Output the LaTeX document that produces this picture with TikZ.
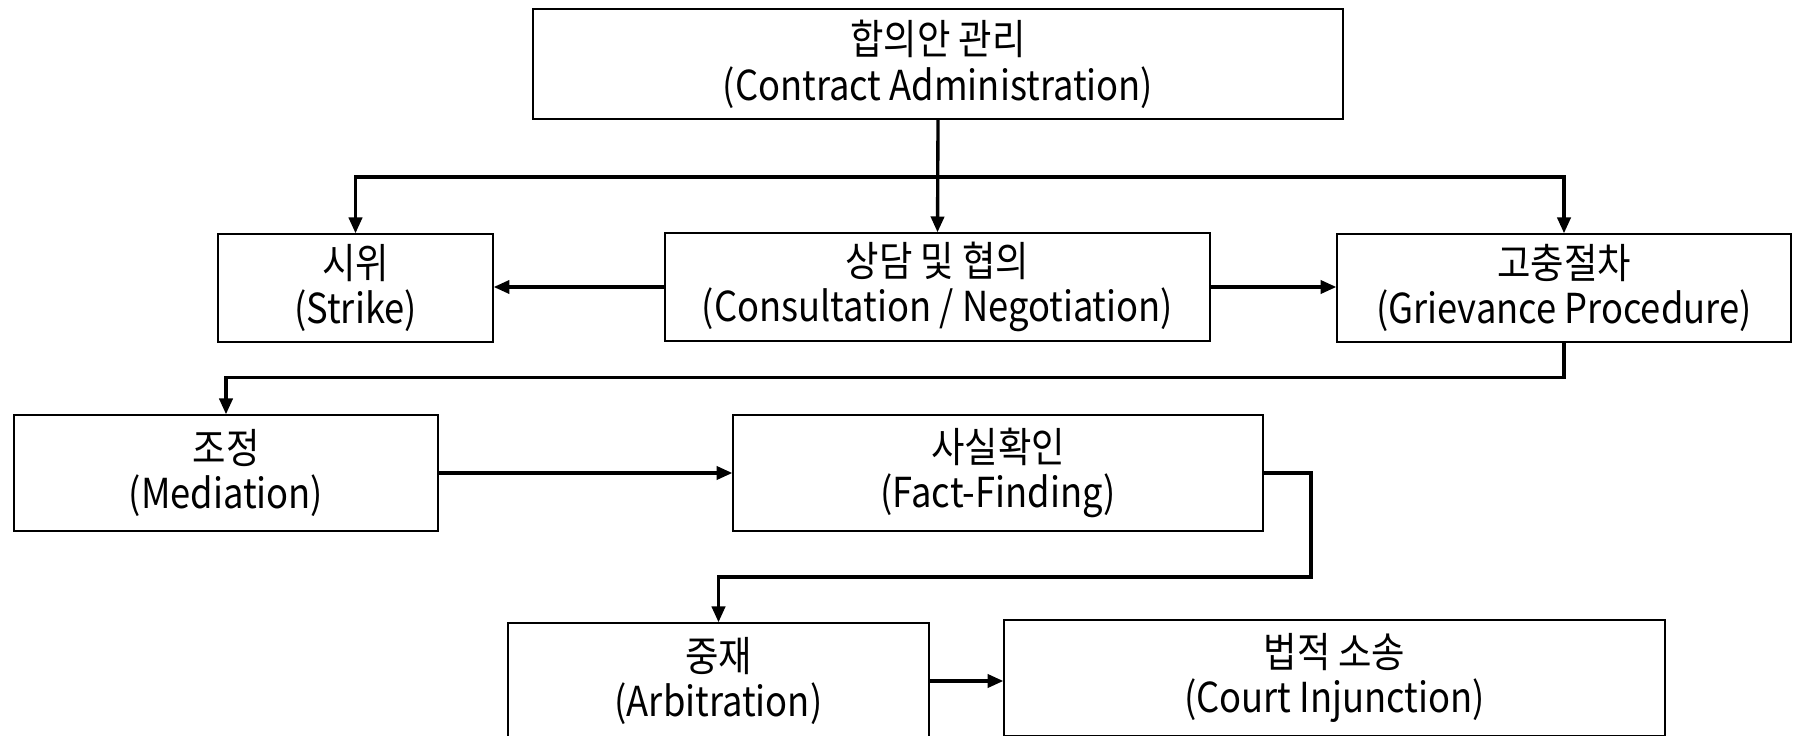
\documentclass[tikz,border=0pt]{standalone}
\usepackage{fontspec}
\setmainfont{Noto Sans CJK KR}[FakeStretch=0.88]
\usetikzlibrary{positioning}
\usetikzlibrary{arrows.meta}

\tikzset{
  stage/.style={rectangle,draw,line width=0.8pt,align=center,inner sep=0pt,
    font=\fontsize{23.5}{26}\selectfont},
  flow/.style={line width=1.9pt,-{Triangle[length=9pt,width=7.5pt]}},
}

\begin{document}
\begin{tikzpicture}[x=0.02cm,y=-0.02cm]
  \useasboundingbox (0,0) rectangle (1798,736);
  \node(admin)[stage,minimum width=16.2cm,minimum height=2.2cm] at (938,64){합의안 관리\\(Contract Administration)};
  \node(strike)[stage,minimum width=5.5cm,minimum height=2.16cm] at (355.5,288){시위\\(Strike)};
  \node(consult)[stage,minimum width=10.9cm,minimum height=2.16cm] at (937.5,287){상담 및 협의\\(Consultation / Negotiation)};
  \node(griev)[stage,minimum width=9.08cm,minimum height=2.16cm] at (1564,288){고충절차\\(Grievance Procedure)};
  \node(medi)[stage,minimum width=8.48cm,minimum height=2.32cm] at (226,473){조정\\(Mediation)};
  \node(fact)[stage,minimum width=10.6cm,minimum height=2.32cm] at (998,473){사실확인\\(Fact-Finding)};
  \node(arb)[stage,minimum width=8.42cm,minimum height=2.32cm] at (718.5,681){중재\\(Arbitration)};
  \node(court)[stage,minimum width=13.22cm,minimum height=2.32cm] at (1334.5,678){법적 소송\\(Court Injunction)};
  \coordinate(bar) at (938,177);
  \coordinate(fbend) at (1311,577);
\draw[flow](admin.south)--(consult.north);
\draw[flow](bar)-|(strike.north);
\draw[flow](bar)-|(griev.north);
\draw[flow](consult.west)--(consult.west-|strike.east);
\draw[flow](consult.east)--(consult.east-|griev.west);
\draw[flow](griev.south)--++(0,35)-|(medi.north);
\draw[flow](medi.east)--(fact.west);
\draw[flow](fact.east)-|(fbend)-|(arb.north);
\draw[flow](arb.east)--(arb.east-|court.west);
\end{tikzpicture}
\end{document}
